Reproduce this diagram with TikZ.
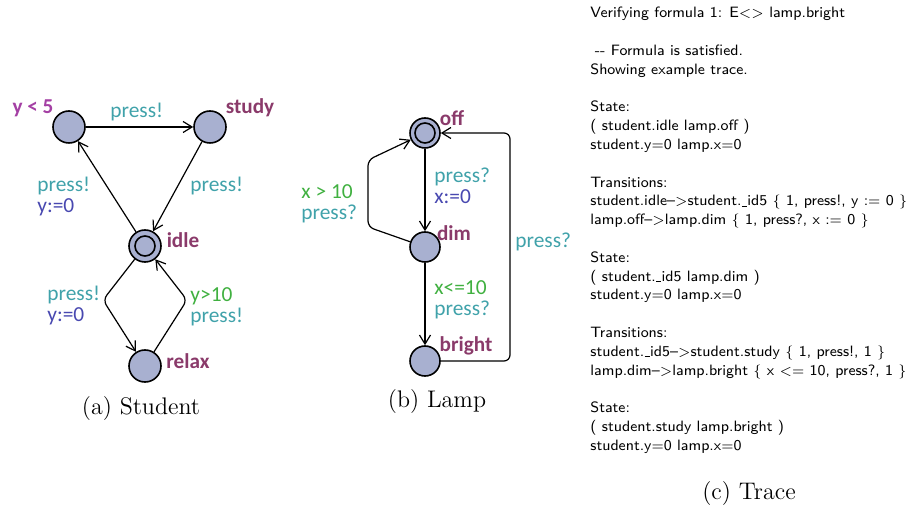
\documentclass[tikz,border=0pt]{standalone}
\usepackage{fontspec}
\newfontfamily\uppaalfont{Carlito}
\usetikzlibrary{arrows.meta, positioning}
\definecolor{locfill}{RGB}{168,176,208}
\definecolor{namecol}{RGB}{138,58,106}
\definecolor{invcol}{RGB}{164,64,164}
\definecolor{synccol}{RGB}{64,162,170}
\definecolor{updcol}{RGB}{72,72,176}
\definecolor{guardcol}{RGB}{64,176,64}
\tikzstyle{arr} = [->, line width=0.6pt, rounded corners=3pt]
\newcommand{\us}{\kern0.03em\rule[-0.05ex]{0.33em}{0.35pt}\kern0.03em}
\newcommand{\goes}{\textendash$>$}

\begin{document}
\begin{tikzpicture}[
                x=0.5pt, y=-0.5pt,
                >={Straight Barb[length=4.5pt, width=5.5pt]},
                loc/.style={
                    circle,
                    draw,
                    line width=0.8pt,
                    fill=locfill,
                    minimum size=16pt,
                    inner sep=0pt
                },
                smallloc/.style={loc, minimum size=15pt},
                init/.style={
                    path picture={\draw[line width=0.8pt] (path picture bounding box.center) circle[radius=5pt];}
                },
                lname/.style={font=\uppaalfont\bfseries\fontsize{10.6}{10.5}\selectfont, text=namecol},
                inv/.style={lname, text=invcol},
                lab/.style={font=\uppaalfont\fontsize{10.7}{10.5}\selectfont, align=left, inner sep=0pt, anchor=west},
                subcap/.style={font=\fontsize{12}{14}\selectfont}
            ]
                \useasboundingbox (0,0) rectangle (908,512);

                % student
                \node[loc] (want) at (69,127) {};
                \node[loc] (study) at (210,127) {};
                \node[loc, init] (idle) at (145,246) {};
                \node[loc] (relax) at (145,366) {};
                \coordinate (bendL) at (103,300);
                \coordinate (bendR) at (187,300);

                \node[inv] (inv1) at (33,108) {y < 5};
                \node[lname] (nstudy) at (250,108) {study};
                \node[lname] (nidle) at (183,240) {idle};
                \node[lname] (nrelax) at (188,361) {relax};

                \draw[arr] (want) -- (study);
                \draw[arr] (study) -- (idle);
                \draw[arr] (idle) -- (want);
                \draw[arr] (idle) -- (bendL) -- (relax);
                \draw[arr] (relax) -- (bendR) -- (idle);

                \node[lab, text=synccol] (l1) at (110,112) {press!};
                \node[lab, text=synccol] (l2) at (190,186) {press!};
                \node[lab] (l3) at (37,197) {\color{synccol}press!\\\color{updcol}y:=0};
                \node[lab] (l4) at (47,306) {\color{synccol}press!\\\color{updcol}y:=0};
                \node[lab] (l5) at (190,307) {\color{guardcol}y>10\\\color{synccol}press!};

                % lamp
                \node[smallloc, init] (off) at (425,133) {};
                \node[smallloc] (dim) at (425,247) {};
                \node[smallloc] (bright) at (425,361) {};
                \coordinate (dimA) at (368,227);
                \coordinate (dimB) at (368,160);
                \coordinate (retA) at (510,361);

                \node[lname] (noff) at (452,118) {off};
                \node[lname] (ndim) at (454,233) {dim};
                \node[lname] (nbright) at (466,346) {bright};

                \draw[arr] (off) -- (dim);
                \draw[arr] (dim) -- (dimA) -- (dimB) -- (off);
                \draw[arr] (dim) -- (bright);
                \draw[arr] (bright) -- (retA) |- (off);

                \node[lab] (l6) at (434,186) {\color{synccol}press?\\\color{updcol}x:=0};
                \node[lab] (l7) at (301,204) {\color{guardcol}x > 10\\\color{synccol}press?};
                \node[lab] (l8) at (434,300) {\color{guardcol}x<=10\\\color{synccol}press?};
                \node[lab, text=synccol] (l9) at (515,242) {press?};

                % trace
                \node[anchor=north west, align=left, inner sep=0pt,
                      font=\sffamily\fontsize{7.5}{9.4}\selectfont] (trace) at (590,7) {%
                    Verifying formula 1: E$<>$ lamp.bright\\[9.4pt]
                    \hspace*{0.3em}-{}- Formula is satisfied.\\
                    Showing example trace.\\[9.4pt]
                    State:\\
                    ( student.idle lamp.off )\\
                    student.y$=$0 lamp.x$=$0\\[9.4pt]
                    Transitions:\\
                    student.idle\goes student.\us id5 $\{$ 1, press!, y :$=$ 0 $\}$\\
                    lamp.off\goes lamp.dim $\{$ 1, press?, x :$=$ 0 $\}$\\[9.4pt]
                    State:\\
                    ( student.\us id5 lamp.dim )\\
                    student.y$=$0 lamp.x$=$0\\[9.4pt]
                    Transitions:\\
                    student.\us id5\goes student.study $\{$ 1, press!, 1 $\}$\\
                    lamp.dim\goes lamp.bright $\{$ x $<=$ 10, press?, 1 $\}$\\[9.4pt]
                    State:\\
                    ( student.study lamp.bright )\\
                    student.y$=$0 lamp.x$=$0};

                \node[subcap] (capa) at (141,409) {(a) Student};
                \node[subcap] (capb) at (437,402) {(b) Lamp};
                \node[subcap] (capc) at (749,494) {(c) Trace};

            \end{tikzpicture}
\end{document}
